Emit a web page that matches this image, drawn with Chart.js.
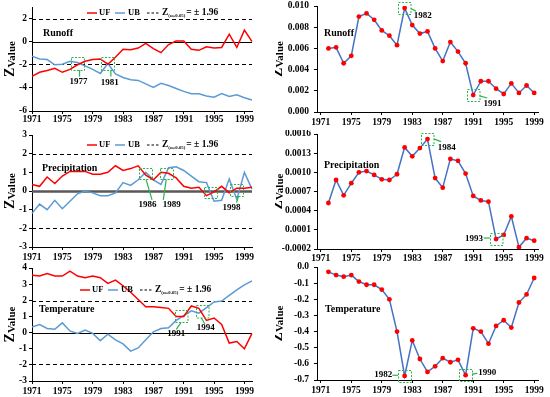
<!DOCTYPE html>
<html>
<head>
<meta charset="utf-8">
<script src="https://cdn.jsdelivr.net/npm/chart.js@4.4.1/dist/chart.umd.min.js"></script>
<style>
  html, body { margin: 0; padding: 0; background: #fff; }
  #wrap { position: relative; width: 550px; height: 397px; }
  canvas { position: absolute; }
</style>
</head>
<body>
<div id="wrap">
  <canvas id="runoffMK" width="275" height="130" style="left:0;top:0"></canvas>
  <canvas id="runoffZ" width="275" height="130" style="left:275px;top:0"></canvas>
  <canvas id="precipMK" width="275" height="132" style="left:0;top:130px"></canvas>
  <canvas id="precipZ" width="275" height="132" style="left:275px;top:130px"></canvas>
  <canvas id="tempMK" width="275" height="135" style="left:0;top:262px"></canvas>
  <canvas id="tempZ" width="275" height="135" style="left:275px;top:262px"></canvas>
</div>
<script>
// years on the Mann-Kendall panels (left) and on the Z panels (right)
const yearsMK = ['1971','1972','1973','1974','1975','1976','1977','1978','1979','1980',
  '1981','1982','1983','1984','1985','1986','1987','1988','1989','1990',
  '1991','1992','1993','1994','1995','1996','1997','1998','1999','2000'];
const yearsZ = ['1971','1972','1973','1974','1975','1976','1977','1978','1979','1980',
  '1981','1982','1983','1984','1985','1986','1987','1988','1989','1990',
  '1991','1992','1993','1994','1995','1996','1997','1998','1999'];

// runoff
const runoffUF = [-3.0, -2.65, -2.5, -2.3, -2.65, -2.4, -2.0, -1.7, -1.55, -1.5,
  -1.95, -1.35, -0.65, -0.7, -0.55, -0.15, -0.6, -0.95, -0.25, 0.05,
  0.05, -0.65, -0.75, -0.45, -0.55, -0.5, 0.65, -0.5, 1.0, 0.0];
const runoffUB = [-1.25, -1.5, -1.55, -2.0, -1.95, -1.7, -1.8, -2.1, -2.4, -2.75,
  -1.9, -2.8, -3.1, -3.3, -3.35, -3.65, -3.95, -3.6, -3.8, -4.05,
  -4.3, -4.5, -4.5, -4.7, -4.8, -4.5, -4.75, -4.6, -4.85, -5.05];
const runoffZ = [null, 0.0060, 0.0061, 0.0046, 0.0053, 0.0090, 0.0093, 0.0087, 0.0077, 0.0072,
  0.0063, 0.0098, 0.0082, 0.0074, 0.0076, 0.0060, 0.0048, 0.0066, 0.0057, 0.0046,
  0.0016, 0.0029, 0.0029, 0.0022, 0.0017, 0.0027, 0.0018, 0.0025, 0.0018];

// precipitation
const precipUF = [0.35, 0.25, 0.75, 0.4, 0.8, 1.05, 1.05, 1.05, 0.9, 0.9,
  1.0, 1.35, 1.1, 1.2, 1.35, 0.85, 0.6, 1.0, 0.95, 0.7,
  0.25, 0.15, 0.2, -0.25, -0.05, 0.25, -0.1, 0.15, 0.15, 0.2];
const precipUB = [-1.2, -0.7, -1.0, -0.5, -0.95, -0.55, -0.15, 0.0, -0.1, -0.25,
  -0.25, -0.1, 0.45, 0.3, 0.6, 1.0, 0.6, 0.35, 1.25, 1.3,
  1.1, 0.8, 0.5, 0.45, -0.55, -0.5, 0.65, -0.45, 1.0, 0.1];
const precipZ = [null, 0.00052, 0.00088, 0.00064, 0.00083, 0.00100, 0.00102, 0.00096, 0.00089, 0.00088,
  0.00097, 0.00139, 0.00125, 0.00138, 0.00152, 0.00091, 0.00076, 0.00121, 0.00118, 0.00098,
  0.00063, 0.00056, 0.00054, -0.000044, 0.00002, 0.00031, -0.00017, -0.00003, -0.00007];

// temperature
const tempUF = [3.55, 3.5, 3.65, 3.5, 3.5, 3.8, 3.5, 3.4, 3.5, 3.4,
  3.05, 3.25, 2.9, 2.5, 2.05, 1.6, 1.6, 1.55, 1.5, 1.0,
  1.0, 1.65, 1.5, 0.75, 0.9, 0.5, -0.65, -0.55, -1.0, -0.05];
const tempUB = [0.35, 0.5, 0.25, 0.2, 0.6, 0.1, -0.05, 0.15, -0.05, -0.5,
  -0.1, -0.45, -0.7, -1.15, -0.95, -0.45, 0.05, 0.25, 0.3, 0.75,
  1.05, 1.35, 1.2, 1.55, 1.9, 1.95, 2.3, 2.65, 2.95, 3.2];
const tempZ = [null, -0.03, -0.05, -0.06, -0.05, -0.09, -0.11, -0.11, -0.14, -0.20,
  -0.40, -0.675, -0.455, -0.57, -0.65, -0.615, -0.565, -0.59, -0.575, -0.67,
  -0.38, -0.40, -0.475, -0.365, -0.33, -0.375, -0.22, -0.17, -0.068];

// tick values
const runoffMKTicks = [-6, -5, -4, -3, -2, -1, 0, 1, 2, 3];
const precipMKTicks = [-3, -2, -1, 0, 1, 2, 3];
const tempMKTicks = [-3, -2, -1, 0, 1, 2, 3, 4];
const runoffZTicks = [0, 0.002, 0.004, 0.006, 0.008, 0.010];
const precipZTicks = [-0.0002, 0.0001, 0.0004, 0.0007, 0.0010, 0.0013, 0.0016];
const tempZTicks = [-0.7, -0.6, -0.5, -0.4, -0.3, -0.2, -0.1, 0.0];

const critZ = 1.96;

const FONT = '"Liberation Serif", "Times New Roman", serif';
const GREEN = '#2db34a';
const RED = '#ff0000';

function font(size) { return 'bold ' + size + 'px ' + FONT; }

function drawYTitle(ctx, t, cy) {
  ctx.save();
  ctx.fillStyle = '#000';
  ctx.textBaseline = 'alphabetic';
  ctx.font = font(14);
  const zw = ctx.measureText('Z').width;
  ctx.font = font(11);
  const vw = ctx.measureText('Value').width;
  const u0 = -(zw + vw) / 2;
  ctx.translate(0, cy);
  ctx.rotate(-Math.PI / 2);
  ctx.font = font(14);
  ctx.fillText('Z', u0, t.zx);
  ctx.font = font(11);
  ctx.fillText('Value', u0 + zw, t.vx);
  ctx.restore();
}

function seg(ctx, x1, y1, x2, y2, color, w, dash) {
  ctx.save();
  ctx.strokeStyle = color;
  ctx.lineWidth = w;
  ctx.setLineDash(dash || []);
  ctx.beginPath();
  ctx.moveTo(x1, y1);
  ctx.lineTo(x2, y2);
  ctx.stroke();
  ctx.restore();
}

function drawLegend(ctx, x, y) {
  ctx.save();
  ctx.fillStyle = '#000';
  ctx.textBaseline = 'middle';
  seg(ctx, x, y, x + 10, y, RED, 1.5);
  ctx.font = font(8.5);
  ctx.fillText('UF', x + 12, y);
  seg(ctx, x + 28, y, x + 38, y, '#5b9bd5', 1.5);
  ctx.fillText('UB', x + 41, y);
  seg(ctx, x + 60, y, x + 73, y, '#000', 1.2, [2.5, 2]);
  ctx.font = font(9.5);
  ctx.fillText('Z', x + 75, y);
  const zw = ctx.measureText('Z').width;
  ctx.font = font(4.8);
  ctx.fillText('(\u03b1=0.05)', x + 75 + zw, y + 2.5);
  const sw = ctx.measureText('(\u03b1=0.05)').width;
  ctx.font = font(9.5);
  ctx.fillText('= \u00b1 1.96', x + 76 + zw + sw, y);
  ctx.restore();
}

const decorPlugin = {
  id: 'decor',
  beforeDatasetsDraw(chart, args, o) {
    const { ctx, chartArea: a } = chart;
    const y = chart.scales.y;
    (o.hlines || []).forEach(h => {
      const py = Math.round(y.getPixelForValue(h.v)) + 0.5;
      seg(ctx, a.left, py, a.right, py, h.color || '#000', h.w || 1.2, h.dash);
    });
  },
  afterDatasetsDraw(chart, args, o) {
    const { ctx, chartArea: a } = chart;
    const xs = chart.scales.x, ys = chart.scales.y;
    drawYTitle(ctx, o.title, (a.top + a.bottom) / 2);
    if (o.legend) drawLegend(ctx, o.legend.x, o.legend.y);
    ctx.save();
    ctx.fillStyle = '#000';
    ctx.textBaseline = 'middle';
    ctx.textAlign = 'left';
    ctx.font = font(10);
    ctx.fillText(o.name.text, o.name.x, o.name.y);
    ctx.restore();
    (o.boxes || []).forEach(b => {
      const cx = xs.getPixelForValue(b.i);
      const cy = ys.getPixelForValue(b.v);
      ctx.save();
      ctx.strokeStyle = GREEN;
      ctx.lineWidth = 1;
      ctx.setLineDash([2, 1.5]);
      ctx.strokeRect(Math.round(cx - b.w / 2) + 0.5, Math.round(cy - b.h / 2) + 0.5, b.w, b.h);
      ctx.restore();
      if (b.lead) {
        seg(ctx, cx + b.lead[0], cy + b.lead[1], cx + b.lead[2], cy + b.lead[3], GREEN, 1.2);
      }
      if (b.text) {
        ctx.save();
        ctx.fillStyle = '#000';
        ctx.font = font(9);
        ctx.textAlign = 'center';
        ctx.textBaseline = 'middle';
        ctx.fillText(b.text, cx + b.tx, cy + b.ty);
        ctx.restore();
      }
    });
  }
};

function makePanel(id, p) {
  const tickFont = { family: FONT, size: 9.5, weight: 'bold' };
  return new Chart(document.getElementById(id), {
    type: 'line',
    data: { labels: p.labels, datasets: p.datasets },
    options: {
      responsive: false,
      animation: false,
      layout: { padding: { top: p.top, right: p.right, left: 0, bottom: 0 } },
      plugins: { legend: { display: false }, tooltip: { enabled: false }, decor: p.decor },
      scales: {
        x: {
          type: 'category',
          offset: p.offset,
          grid: { drawOnChartArea: false, tickLength: 3, color: '#000' },
          border: { color: '#000', width: 1 },
          ticks: {
            autoSkip: false, maxRotation: 0, padding: p.xPad, color: '#000', font: tickFont,
            callback: (v, i) => (i % 4 === 0 ? p.labels[i] : null)
          },
          afterFit: s => { s.height = p.xh; s.paddingLeft = 0; s.paddingRight = 0; }
        },
        y: {
          type: 'linear',
          min: p.yTicks[0],
          max: p.yTicks[p.yTicks.length - 1],
          afterBuildTicks: s => { s.ticks = p.yTicks.map(v => ({ value: v })); },
          grid: { drawOnChartArea: false, tickLength: 3, color: '#000' },
          border: { color: '#000', width: 1 },
          ticks: { padding: p.yPad, color: '#000', font: tickFont, callback: v => p.fmt(v) },
          afterFit: s => { s.width = p.yw; s.paddingTop = 0; s.paddingBottom = 0; }
        }
      }
    },
    plugins: [decorPlugin]
  });
}

function mkSets(uf, ub) {
  return [
    { data: uf, borderColor: RED, borderWidth: 1.5, pointRadius: 0, tension: 0 },
    { data: ub, borderColor: '#5b9bd5', borderWidth: 1.5, pointRadius: 0, tension: 0 }
  ];
}
function zSet(z) {
  return [{ data: z, borderColor: '#4472c4', borderWidth: 1.5, pointRadius: 2.4,
    pointBackgroundColor: RED, pointBorderWidth: 0, pointBorderColor: RED, tension: 0 }];
}
const critLines = [{ v: critZ, dash: [4, 3] }, { v: -critZ, dash: [4, 3] }];
const fmtInt = v => String(v);

makePanel('runoffMK', {
  labels: yearsMK, datasets: mkSets(runoffUF, runoffUB), offset: false,
  yTicks: runoffMKTicks, fmt: fmtInt, yw: 32, top: 7, right: 23, xh: 19, xPad: 0, yPad: 2,
  decor: {
    title: { zx: 13.5, vx: 14.5 },
    hlines: [{ v: 0 }].concat(critLines),
    legend: { x: 87, y: 13 },
    name: { text: 'Runoff', x: 43, y: 33 },
    boxes: [
      { i: 6, v: -1.9, w: 13, h: 13, text: '1977', tx: 1, ty: 18.5, lead: [2, 6.5, 2, 13] },
      { i: 10, v: -1.9, w: 13, h: 13, text: '1981', tx: 2, ty: 19, lead: [3, 6.5, 3, 13] }
    ]
  }
});

makePanel('precipMK', {
  labels: yearsMK, datasets: mkSets(precipUF, precipUB), offset: false,
  yTicks: precipMKTicks, fmt: fmtInt, yw: 32, top: 5, right: 23, xh: 15, xPad: 2, yPad: 2,
  decor: {
    title: { zx: 13.5, vx: 14.5 },
    hlines: [{ v: 0, w: 2.5, color: '#595959' }].concat(critLines),
    legend: { x: 87, y: 15 },
    name: { text: 'Precipitation', x: 42, y: 38 },
    boxes: [
      { i: 14.9, v: 0.92, w: 13, h: 11, text: '1986', tx: 2.5, ty: 30.5, lead: [1, 5.5, 7, 26] },
      { i: 17.7, v: 0.92, w: 13, h: 11, text: '1989', tx: 5.5, ty: 30.5, lead: [0, 5.5, -3, 26] },
      { i: 23.5, v: -0.08, w: 13, h: 11 },
      { i: 26.9, v: 0.05, w: 13, h: 12, text: '1998', tx: -4.5, ty: 17.3, lead: [0.5, 12.5, 2.5, 6] }
    ]
  }
});

makePanel('tempMK', {
  labels: yearsMK, datasets: mkSets(tempUF, tempUB), offset: false,
  yTicks: tempMKTicks, fmt: fmtInt, yw: 32, top: 6, right: 23, xh: 16, xPad: 1.5, yPad: 2,
  decor: {
    title: { zx: 13.5, vx: 14.5 },
    hlines: [{ v: 0 }].concat(critLines),
    legend: { x: 80, y: 28 },
    name: { text: 'Temperature', x: 39, y: 47 },
    boxes: [
      { i: 19.7, v: 1.0, w: 12.5, h: 12, text: '1991', tx: -5.3, ty: 17.5, lead: [-0.3, 6, -5.3, 13] },
      { i: 22.4, v: 1.29, w: 12.5, h: 12.5, text: '1994', tx: 3.8, ty: 16.2, lead: [-0.5, 6.2, 2.8, 12] }
    ]
  }
});

makePanel('runoffZ', {
  labels: yearsZ, datasets: zSet(runoffZ), offset: true,
  yTicks: runoffZTicks, fmt: v => v.toFixed(3), yw: 42, top: 6, right: 12, xh: 18, xPad: 1.5, yPad: 5,
  decor: {
    title: { zx: 7, vx: 8 },
    name: { text: 'Runoff', x: 49, y: 33 },
    boxes: [
      { i: 11, v: 0.0098, w: 12.5, h: 12, text: '1982', tx: 18, ty: 8, lead: [6.2, 0.3, 11.2, 3] },
      { i: 20, v: 0.0016, w: 12.5, h: 12, text: '1991', tx: 19.3, ty: 8.5, lead: [6.2, 0.8, 14, 3] }
    ]
  }
});

makePanel('precipZ', {
  labels: yearsZ, datasets: zSet(precipZ), offset: true,
  yTicks: precipZTicks, fmt: v => v.toFixed(4), yw: 42, top: 3, right: 12, xh: 13, xPad: 1, yPad: 3,
  decor: {
    title: { zx: 7, vx: 8 },
    name: { text: 'Precipitation', x: 49, y: 35 },
    boxes: [
      { i: 14, v: 0.00152, w: 12.5, h: 12, text: '1984', tx: 19.3, ty: 8.2, lead: [6.3, -0.2, 13.5, 2.5] },
      { i: 23, v: -0.000044, w: 12.5, h: 12, text: '1993', tx: -22.2, ty: 0, lead: [-12.5, -1, -6.2, -1] }
    ]
  }
});

makePanel('tempZ', {
  labels: yearsZ, datasets: zSet(tempZ), offset: true,
  yTicks: tempZTicks, fmt: v => v.toFixed(1), yw: 42, top: 5, right: 12, xh: 17, xPad: 1.5, yPad: 5,
  decor: {
    title: { zx: 7, vx: 8 },
    name: { text: 'Temperature', x: 50, y: 47 },
    boxes: [
      { i: 11, v: -0.675, w: 13, h: 12, text: '1982', tx: -21.5, ty: -1, lead: [-12.3, -0.7, -6.5, -0.7] },
      { i: 19, v: -0.67, w: 13, h: 12, text: '1990', tx: 21.7, ty: -2.8, lead: [6.5, -1, 11.7, -1.7] }
    ]
  }
});
</script>
</body>
</html>
